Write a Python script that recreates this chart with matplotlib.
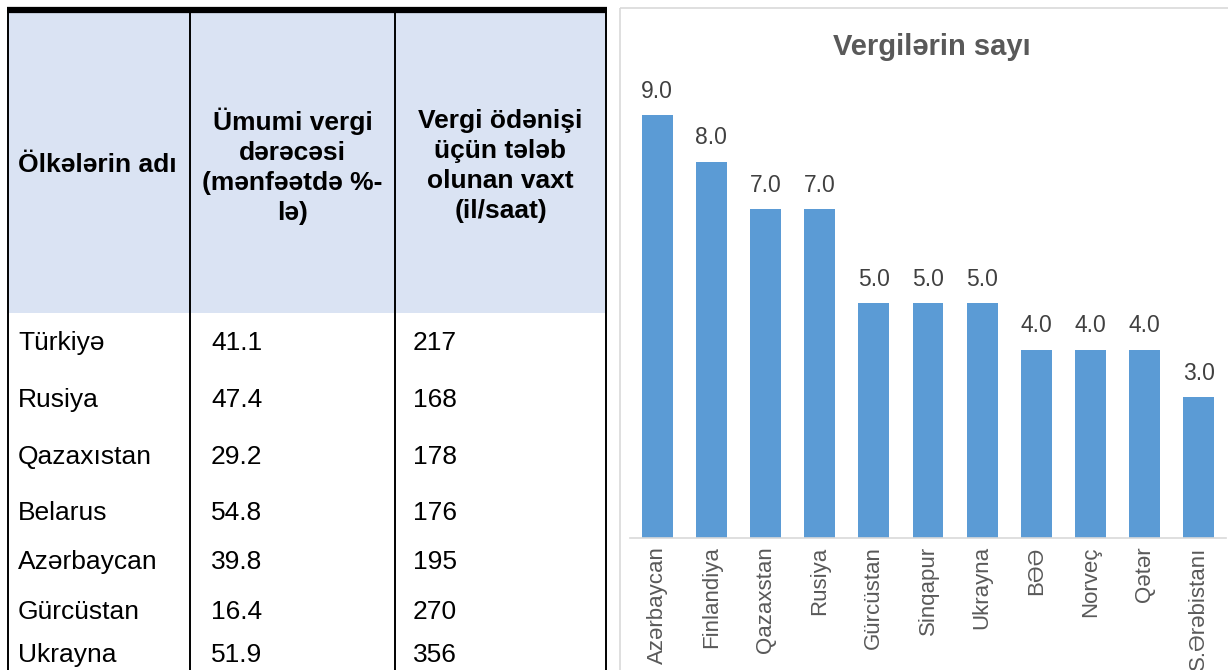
import matplotlib.pyplot as plt
from matplotlib.patches import Rectangle

plt.rcParams['font.family'] = ['Liberation Sans', 'DejaVu Sans']

# table data
table_head = ["Ölkələrin adı",
              "Ümumi vergi\ndərəcəsi\n(mənfəətdə %-\nlə)",
              "Vergi ödənişi\nüçün tələb\nolunan vaxt\n(il/saat)"]
table_countries = ["Türkiyə", "Rusiya", "Qazaxıstan", "Belarus",
                   "Azərbaycan", "Gürcüstan", "Ukrayna"]
tax_rate = [41.1, 47.4, 29.2, 54.8, 39.8, 16.4, 51.9]
tax_hours = [217, 168, 178, 176, 195, 270, 356]

# chart data
chart_title = "Vergilərin sayı"
chart_countries = ["Azərbaycan", "Finlandiya", "Qazaxstan", "Rusiya", "Gürcüstan",
                   "Sinqapur", "Ukrayna", "BƏƏ", "Norveç", "Qətər", "S.Ərəbistanı"]
tax_count = [9.0, 8.0, 7.0, 7.0, 5.0, 5.0, 5.0, 4.0, 4.0, 4.0, 3.0]

W, H = 1228, 670
fig = plt.figure(figsize=(W / 100, H / 100), dpi=100)

# ---- table, drawn on a full-figure axes in pixel units
tab = fig.add_axes([0, 0, 1, 1])
tab.set_xlim(0, W)
tab.set_ylim(H, 0)
tab.axis('off')

col_edges = [8, 190, 395, 606]
header_bottom = 313
row_y = [343, 400, 457, 513, 562, 612, 655]

tab.add_patch(Rectangle((col_edges[0], 13), col_edges[-1] - col_edges[0], header_bottom - 13,
                        facecolor='#DAE3F3', edgecolor='none'))
tab.plot([col_edges[0] - 1, col_edges[-1] + 1], [10, 10], color='black', lw=4.5,
         solid_capstyle='butt')
for x in col_edges:
    tab.plot([x, x], [12, H], color='black', lw=1.4)

tab.text(18, 165, table_head[0], fontsize=19, fontweight='bold', ha='left', va='center')
for i in (1, 2):
    cx = (col_edges[i] + col_edges[i + 1]) / 2
    tab.text(cx, 166, table_head[i], fontsize=19, fontweight='bold', ha='center',
             va='center', linespacing=1.32)

for y, name, rate, hours in zip(row_y, table_countries, tax_rate, tax_hours):
    tab.text(18, y, name, fontsize=19, ha='left', va='center')
    tab.text(211, y, f"{rate:.1f}", fontsize=19, ha='left', va='center')
    tab.text(413, y, f"{hours}", fontsize=19, ha='left', va='center')

# chart frame
tab.add_patch(Rectangle((620, 8), 700, 700, facecolor='none', edgecolor='#D9D9D9', lw=1.2))

# ---- bar chart
ax = fig.add_axes([630 / W, 1 - 538 / H, 596 / W, 470 / H])
x = range(len(chart_countries))
bars = ax.bar(x, tax_count, width=0.57, color='#5B9BD5')
ax.set_xlim(-0.5, len(chart_countries) - 0.5)
ax.set_ylim(0, 10)
ax.bar_label(bars, labels=[f"{v:.1f}" for v in tax_count], padding=9,
             fontsize=16.5, color='#404040')

ax.set_xticks(list(x))
ax.set_xticklabels(chart_countries, rotation=90, fontsize=16, color='#595959')
ax.tick_params(axis='x', length=0, pad=6)
ax.set_yticks([])
for s in ('top', 'left', 'right'):
    ax.spines[s].set_visible(False)
ax.spines['bottom'].set_color('#D9D9D9')
ax.spines['bottom'].set_linewidth(1.2)

fig.text(932 / W, 1 - 47 / H, chart_title, fontsize=21, fontweight='bold',
         color='#595959', ha='center', va='center')

fig.savefig('out.png', dpi=100)
